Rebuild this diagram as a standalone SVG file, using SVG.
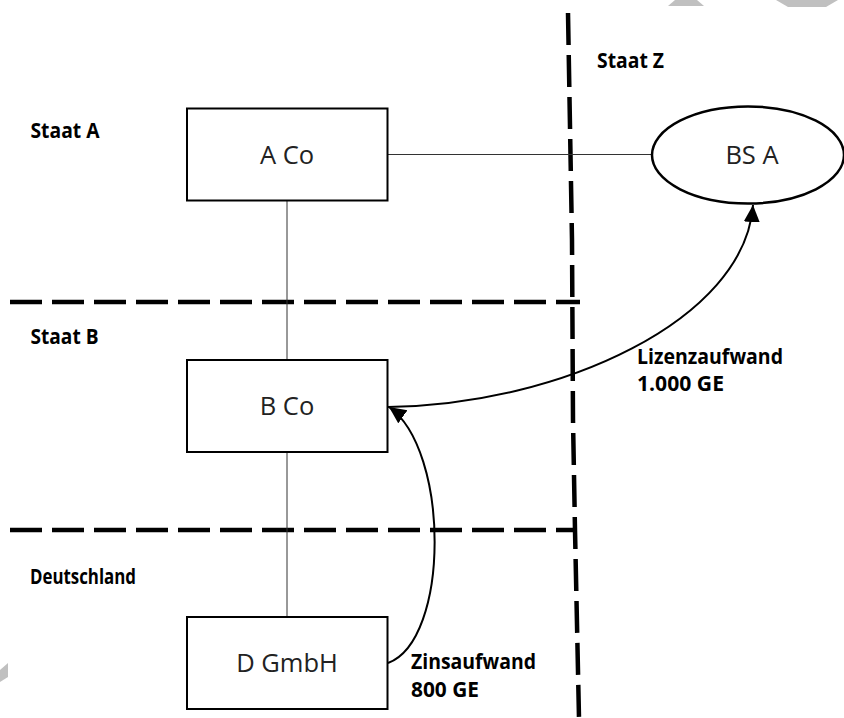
<svg xmlns="http://www.w3.org/2000/svg" width="844" height="718" viewBox="0 0 844 718">
<style>
.box{fill:#fff;stroke:#000;stroke-width:2}
.ell{fill:#fff;stroke:#000;stroke-width:2.5}
.node{font-family:"Open Sans","Liberation Sans",sans-serif;font-size:25.5px;fill:#222;text-anchor:middle}
.lbl{font-family:"Open Sans","Liberation Sans",sans-serif;font-size:20.5px;font-weight:bold;fill:#000}
.thin{stroke:#333;stroke-width:1;fill:none}
.curve{stroke:#000;stroke-width:2;fill:none}
.dash{stroke:#000;stroke-width:4.5;fill:none;stroke-dasharray:32 10}
.wm{fill:#c0c0c0}
</style>
<defs>
<marker id="arr" markerUnits="userSpaceOnUse" markerWidth="18" markerHeight="18" viewBox="0 0 18 18" refX="17" refY="8" orient="auto">
<path d="M0,0 L17,8 L0,16 z" fill="#000"/>
</marker>
</defs>
<rect width="844" height="718" fill="#fff"/>
<g id="watermark">
<polygon class="wm" points="668,6 704,6 697,0 675,0"/>
<polygon class="wm" points="776,0 838,0 826,7 788,7"/>
<polygon class="wm" points="0,670 8,663 8,677 0,682"/>
</g>
<g id="borders">
<line class="dash" x1="10" y1="302" x2="580" y2="302"/>
<line class="dash" x1="10" y1="530" x2="576" y2="530"/>
<polyline class="dash" points="568,13 572,240 573,420 575,530 579,718"/>
</g>
<g id="region-labels">
<text class="lbl" x="30.5" y="138" textLength="69" lengthAdjust="spacingAndGlyphs">Staat A</text>
<text class="lbl" x="30.5" y="344" textLength="68" lengthAdjust="spacingAndGlyphs">Staat B</text>
<text class="lbl" x="30" y="584" textLength="106" lengthAdjust="spacingAndGlyphs">Deutschland</text>
<text class="lbl" x="597" y="68" textLength="67" lengthAdjust="spacingAndGlyphs">Staat Z</text>
</g>
<g id="connectors">
<line class="thin" x1="388" y1="154.5" x2="652" y2="154.5"/>
<line class="thin" x1="287" y1="200" x2="287" y2="360"/>
<line class="thin" x1="287" y1="452" x2="287" y2="617"/>
<path class="curve" d="M388,407 C560,405 745,320 753,205" marker-end="url(#arr)"/>
<path class="curve" d="M388,663 C450,640 450,450 389,407" marker-end="url(#arr)"/>
<text class="lbl" x="637" y="364" textLength="146" lengthAdjust="spacingAndGlyphs">Lizenzaufwand</text>
<text class="lbl" x="637" y="391" textLength="87" lengthAdjust="spacingAndGlyphs">1.000 GE</text>
<text class="lbl" x="411" y="669" textLength="125" lengthAdjust="spacingAndGlyphs">Zinsaufwand</text>
<text class="lbl" x="411" y="697" textLength="68" lengthAdjust="spacingAndGlyphs">800 GE</text>
</g>
<g id="node-aco">
<rect class="box" x="187" y="108.5" width="200.5" height="92"/>
<text class="node" x="287" y="163.5">A Co</text>
</g>
<g id="node-bco">
<rect class="box" x="187" y="360" width="200.5" height="92"/>
<text class="node" x="287" y="414.5">B Co</text>
</g>
<g id="node-dgmbh">
<rect class="box" x="187" y="617" width="200.5" height="92"/>
<text class="node" x="287" y="672">D GmbH</text>
</g>
<g id="node-bsa">
<ellipse class="ell" cx="748" cy="155" rx="96" ry="48.5"/>
<text class="node" x="752" y="163.5">BS A</text>
</g>
</svg>
